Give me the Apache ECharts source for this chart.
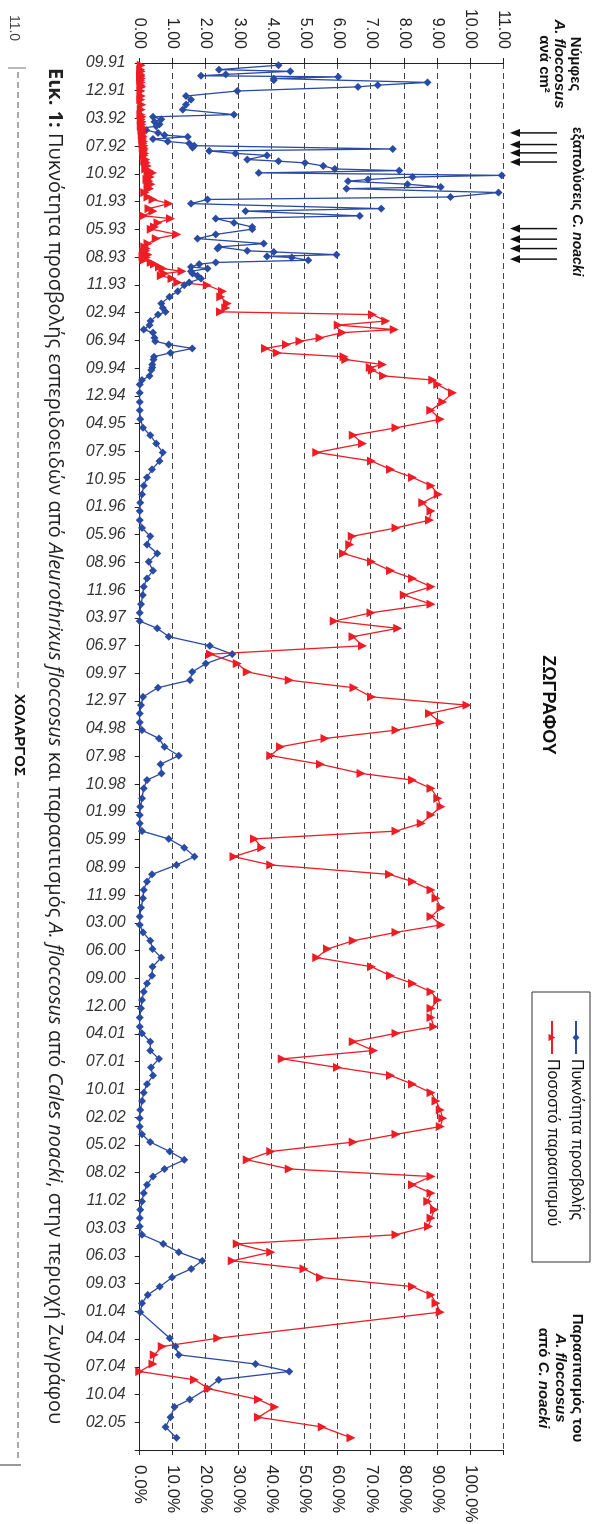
<!DOCTYPE html>
<html>
<head>
<meta charset="utf-8">
<script src="https://cdn.jsdelivr.net/npm/echarts@6/dist/echarts.min.js"></script>
<style>
html,body{margin:0;padding:0;background:#fff;width:598px;height:1524px;overflow:hidden;}
#wrap{position:absolute;left:0;top:0;width:1524px;height:598px;transform-origin:0 0;transform:translate(598px,0) rotate(90deg);background:#fff;}
#chart{width:1524px;height:598px;}
</style>
</head>
<body>
<div id="wrap"><div id="chart"></div></div>
<script>
// First axis date (09.09.1991); sample days are counted from it, axis ticks every 100 days
const axisStartDate = Date.UTC(1991, 8, 9);
const tickStepDays = 100;
const axisEndDay = 5000;

const sampleDay = [
  8,24,30,41,46,50,56,62,70,80,86,101,119,132,150,168,186,194,203,212,
  221,228,235,242,252,260,266,274,283,290,298,305,310,317,326,333,348,354,360,371,
  382,388,396,405,411,420,426,437,447,453,
  467,483,492,507,525,534,551,561,576,591,599,618,633,651,663,669,677,681,691,697,
  701,711,719,725,735,741,751,759,767,777,791,801,823,843,867,883,
  897,907,930,945,961,972,991,1003,1015,1029,1045,1059,1069,1087,1098,1107,1128,1143,1159,1189,
  1222,1252,1284,1315,
  1342,1372,1404,1435,1465,1494,1524,1555,1585,1615,1648,1676,1706,1736,
  1768,1798,1830,1858,1888,1918,1951,1982,2012,2038,2068,2101,2131,2165,
  2195,2225,2252,2285,2315,2345,2377,2405,2435,2465,2497,2528,2561,2585,2615,
  2651,2681,2711,2741,2769,2797,2829,2861,2891,2925,2951,2981,3011,3045,
  3077,3107,3134,3164,3194,3225,3258,3290,3318,3348,3378,3408,3441,3474,
  3498,3528,3560,3590,3621,3650,3681,3712,3742,3774,3804,3834,3862,3890,
  3924,3954,3987,4014,4044,4074,4104,4134,4164,4194,4224,4257,4287,4318,4347,
  4378,4411,4441,4471,4503,4597,4627,4657,4690,4717,4747,4779,
  4818,4845,4882,4917,4956
];

// Νύμφες A. floccosus ανά cm² (left axis)
const nymphDensity = [
  4.2,2.4,4.55,2.6,1.85,6.0,4.05,4.05,8.7,7.2,6.6,2.95,1.4,1.55,1.4,1.3,2.85,0.4,0.65,0.45,
  0.6,0.5,0.05,0.2,0.55,0.75,1.45,0.4,0.85,1.5,1.65,1.6,7.65,2.1,2.9,3.85,3.25,4.2,5.0,5.55,
  5.9,7.85,3.6,10.95,8.25,6.9,6.3,8.1,9.1,6.25,
  10.85,9.4,2.05,1.55,7.3,3.2,6.65,2.3,2.85,3.4,3.4,2.3,1.75,3.75,2.4,2.35,3.25,4.05,5.95,3.85,
  4.6,5.1,2.3,1.8,1.55,2.05,1.55,1.6,1.75,1.85,1.5,1.35,1.15,0.9,0.65,0.7,
  0.78,0.55,0.33,0.3,0.12,0.4,0.45,0.47,0.88,1.59,0.93,0.43,0.42,0.38,0.38,0.35,0.3,0.07,0,0,
  0,0,0.02,0.1,
  0.32,0.5,0.7,0.6,0.37,0.22,0.12,0.07,0.02,0,0,0.07,0.32,0.22,
  0.53,0.27,0.4,0.22,0.12,0.09,0.04,0,0,0.53,0.88,2.12,2.8,2.0,
  1.59,1.52,0.55,0.1,0.04,0,0,0.07,0.58,0.75,1.18,0.63,0.66,0.22,0.12,
  0.07,0.02,0,0,0.07,0.88,1.35,1.66,1.11,0.37,0.22,0.12,0.1,0.04,
  0,0,0.1,0.32,0.39,0.65,0.39,0.37,0.22,0.12,0.07,0.04,0,0,
  0.07,0.32,0.32,0.58,0.34,0.4,0.22,0.12,0.07,0.02,0,0,0.07,0.32,
  0.91,1.35,0.75,0.4,0.22,0.12,0.07,0.02,0,0,0.07,0.71,1.18,1.89,1.56,
  0.98,0.61,0.24,0.07,0.02,0.91,1.08,1.18,3.5,4.52,2.39,2.04,
  1.51,1.05,0.93,0.78,1.11
];

// Παρασιτισμός του A. floccosus από C. noacki, % (right axis)
const parasitism = [
  0.5,0.3,0.5,0.3,0.4,0.3,0.5,0.3,0.5,0.4,0.6,0.4,0.5,0.3,0.6,0.5,0.4,0.7,0.5,0.8,
  0.6,0.5,0.9,0.7,1.0,0.8,1.1,0.9,1.2,1.0,1.3,1.1,1.4,1.2,1.5,1.3,1.8,1.5,2.0,2.3,
  1.8,2.8,3.9,2.5,3.2,2.2,2.8,3.4,2.5,3.0,
  1.5,2.5,4.0,8.8,2.8,4.0,1.2,9.3,5.5,4.5,3.5,11.2,5.0,2.5,1.5,2.0,1.8,1.2,2.5,1.0,
  2.0,1.2,3.5,4.5,6.0,7.0,12.8,7.5,6.5,9.8,11.5,20.4,25.0,24.5,26.5,26.0,
  24.4,70.4,74.4,60.0,77.0,61.3,54.5,48.5,44.4,38.0,41.6,61.8,62.3,73.4,69.7,70.4,73.7,88.6,90.1,94.6,
  91.6,88.0,90.9,77.5,
  64.6,67.4,53.5,70.1,75.8,82.5,88.1,90.3,85.6,88.1,87.6,77.5,64.3,63.5,
  61.6,70.1,75.8,82.5,88.1,80.0,88.1,69.9,58.8,78.0,64.5,67.4,21.4,29.5,
  32.5,45.2,64.8,70.1,99.0,87.6,90.9,77.5,56.0,42.6,39.6,54.7,66.9,82.5,88.1,
  90.1,91.1,88.1,85.1,77.5,34.7,36.9,28.5,39.6,75.5,82.5,88.1,89.6,91.1,
  88.1,91.1,77.5,64.6,56.8,53.5,70.1,75.8,82.5,88.1,90.1,88.1,88.1,88.9,
  77.5,64.6,70.7,43.1,59.8,75.8,82.5,88.1,89.6,90.9,91.6,90.9,77.5,64.6,
  39.6,32.5,45.2,88.1,82.5,88.1,87.1,89.1,88.1,87.3,77.5,29.5,39.6,28.0,49.7,
  54.7,82.5,88.1,89.6,90.9,23.6,6.8,4.4,4.0,0,16.6,20.8,
  35.9,40.8,35.9,55.2,63.9
];

// εξαπολύσεις C. noacki (release dates, days from axis start)
const releaseDay = [252, 294, 324, 357, 597, 635, 669, 707];

const seriesNames = ['Πυκνότητα προσβολής', 'Ποσοστό παρασιτισμού'];

const FONT = 'Liberation Sans';
const BLUE = '#2A4BA3';
const RED = '#EE1D25';

function dateLabel(v) {
  if (v >= axisEndDay) return '';
  const d = new Date(axisStartDate + v * 86400000);
  const m = String(d.getUTCMonth() + 1).padStart(2, '0');
  const y = String(d.getUTCFullYear() % 100).padStart(2, '0');
  return m + '.' + y;
}

const chart = echarts.init(document.getElementById('chart'), null, {renderer: 'canvas', width: 1524, height: 598});

const option = {
  backgroundColor: '#fff',
  animation: false,
  grid: {left: 63, right: 74, top: 94.5, bottom: 139.7, containLabel: false, outerBoundsMode: 'none'},
  legend: {
    orient: 'vertical', left: 1020, top: 14, padding: 0, itemGap: 8,
    itemWidth: 33, itemHeight: 9,
    textStyle: {fontSize: 16, fontFamily: FONT, color: '#111'},
    data: seriesNames
  },
  xAxis: {
    type: 'value', min: 0, max: axisEndDay, interval: tickStepDays, position: 'bottom',
    axisLine: {show: true, onZero: false, lineStyle: {color: '#222', width: 1}},
    axisTick: {show: true, length: 5, lineStyle: {color: '#222'}},
    axisLabel: {rotate: 90, margin: 14, fontSize: 16, fontStyle: 'italic', fontFamily: FONT, color: '#333', formatter: dateLabel},
    splitLine: {show: false}
  },
  yAxis: [
    {
      type: 'value', min: 0, max: 11, interval: 1, position: 'left',
      axisLine: {show: true, lineStyle: {color: '#222', width: 1}},
      axisTick: {show: true, length: 5, lineStyle: {color: '#222'}},
      axisLabel: {margin: 14, fontSize: 16, fontFamily: FONT, color: '#222', formatter: v => v.toFixed(2)},
      splitLine: {show: true, lineStyle: {type: [6, 4], color: '#444', width: 1}}
    },
    {
      type: 'value', min: 0, max: 110, interval: 10, position: 'right',
      axisLine: {show: true, lineStyle: {color: '#222', width: 1}},
      axisTick: {show: true, length: 5, lineStyle: {color: '#222'}},
      axisLabel: {margin: 15, fontSize: 17, fontFamily: FONT, color: '#222', formatter: v => v >= 110 ? '' : v.toFixed(1) + '%'},
      splitLine: {show: false}
    }
  ],
  series: [
    {
      name: seriesNames[0], type: 'line', yAxisIndex: 0,
      data: sampleDay.map((d, i) => [d, nymphDensity[i]]),
      symbol: 'diamond', symbolSize: 8,
      lineStyle: {color: BLUE, width: 1.3}, itemStyle: {color: BLUE},
      emphasis: {disabled: true}, clip: false
    },
    {
      name: seriesNames[1], type: 'line', yAxisIndex: 1,
      data: sampleDay.map((d, i) => [d, parasitism[i]]),
      symbol: 'triangle', symbolSize: 9,
      lineStyle: {color: RED, width: 1.3}, itemStyle: {color: RED},
      emphasis: {disabled: true}, clip: false
    }
  ]
};
chart.setOption(option);

function txt(x, y, text, extra) {
  const style = Object.assign({
    text: text, fill: '#111', fontFamily: FONT, fontSize: 15, fontWeight: 'bold',
    align: 'center', verticalAlign: 'middle', textAlign: 'center', textVerticalAlign: 'middle'
  }, extra || {});
  return {type: 'text', x: x, y: y, silent: true, style: style};
}
const richBold = {
  b: {fontFamily: FONT, fontSize: 15, fontWeight: 'bold', fill: '#111', color: '#111'},
  bi: {fontFamily: FONT, fontSize: 15, fontWeight: 'bold', fontStyle: 'italic', fill: '#111', color: '#111'}
};
const richBold14 = {
  b: {fontFamily: FONT, fontSize: 14, fontWeight: 'bold', fill: '#111', color: '#111'},
  bi: {fontFamily: FONT, fontSize: 14, fontWeight: 'bold', fontStyle: 'italic', fill: '#111', color: '#111'}
};

const g = [];
// top-left heading (left axis title)
g.push(txt(64, 23, 'Νύμφες'));
g.push(txt(64, 39, 'A. floccosus', {fontStyle: 'italic'}));
g.push(txt(64, 54, 'ανά cm²'));
// releases label
g.push(txt(127, 21, '{b|εξαπολύσεις }{bi|C. noacki}', {rich: richBold14, align: 'left', textAlign: 'left', fontSize: 14}));
// arrows at release dates
releaseDay.forEach(d => {
  const x = chart.convertToPixel({xAxisIndex: 0}, d);
  g.push({type: 'line', silent: true, shape: {x1: x, y1: 41, x2: x, y2: 80}, style: {stroke: '#111', lineWidth: 1.5}});
  g.push({type: 'polygon', silent: true, shape: {points: [[x - 4, 78], [x + 4, 78], [x, 88]]}, style: {fill: '#111'}});
});
// area title
g.push(txt(705, 50, 'ΖΩΓΡΑΦΟΥ', {fontSize: 18}));
// legend frame
g.push({type: 'rect', silent: true, shape: {x: 992, y: 8, width: 270, height: 58}, style: {fill: 'none', stroke: '#333', lineWidth: 1}});
// right axis title
g.push(txt(1378, 21, 'Παρασιτισμός του'));
g.push(txt(1378, 38, 'A. floccosus', {fontStyle: 'italic'}));
g.push(txt(1378, 55, '{b|από }{bi|C. noacki}', {rich: richBold}));
// caption
const CAP = 20;
const capRich = {
  b: {fontFamily: 'Open Sans', fontSize: CAP, fontWeight: 'bold', fill: '#222', color: '#222'},
  n: {fontFamily: 'Open Sans', fontSize: CAP, fill: '#222', color: '#222'},
  i: {fontFamily: 'Open Sans', fontSize: CAP, fontStyle: 'italic', fill: '#222', color: '#222'}
};
g.push(txt(68, 543,
  '{b|Εικ. 1:}{n| Πυκνότητα προσβολής εσπεριδοειδών από }{i|Aleurothrixus floccosus}{n| και παρασιτισμός }{i|A. floccosus}{n| από }{i|Cales noacki}{n|, στην περιοχή Ζωγράφου}',
  {rich: capRich, align: 'left', textAlign: 'left', fontWeight: 'normal', fontFamily: 'Open Sans', fontSize: CAP}));
// next-figure header fragments
g.push(txt(735, 579, 'ΧΟΛΑΡΓΟΣ', {fontSize: 15}));
g.push({type: 'line', silent: true, shape: {x1: 72, y1: 580, x2: 688, y2: 580}, style: {stroke: '#555', lineWidth: 1, lineDash: [6, 4]}});
g.push({type: 'line', silent: true, shape: {x1: 782, y1: 580, x2: 1460, y2: 580}, style: {stroke: '#555', lineWidth: 1, lineDash: [6, 4]}});
g.push(txt(28, 584, '11.0', {fontSize: 14, fontWeight: 'normal', fill: '#444'}));
g.push({type: 'line', silent: true, shape: {x1: 68, y1: 572, x2: 68, y2: 590}, style: {stroke: '#777', lineWidth: 1}});
g.push({type: 'line', silent: true, shape: {x1: 1465, y1: 577, x2: 1465, y2: 598}, style: {stroke: '#999', lineWidth: 2}});

chart.setOption({graphic: g});
</script>
</body>
</html>
